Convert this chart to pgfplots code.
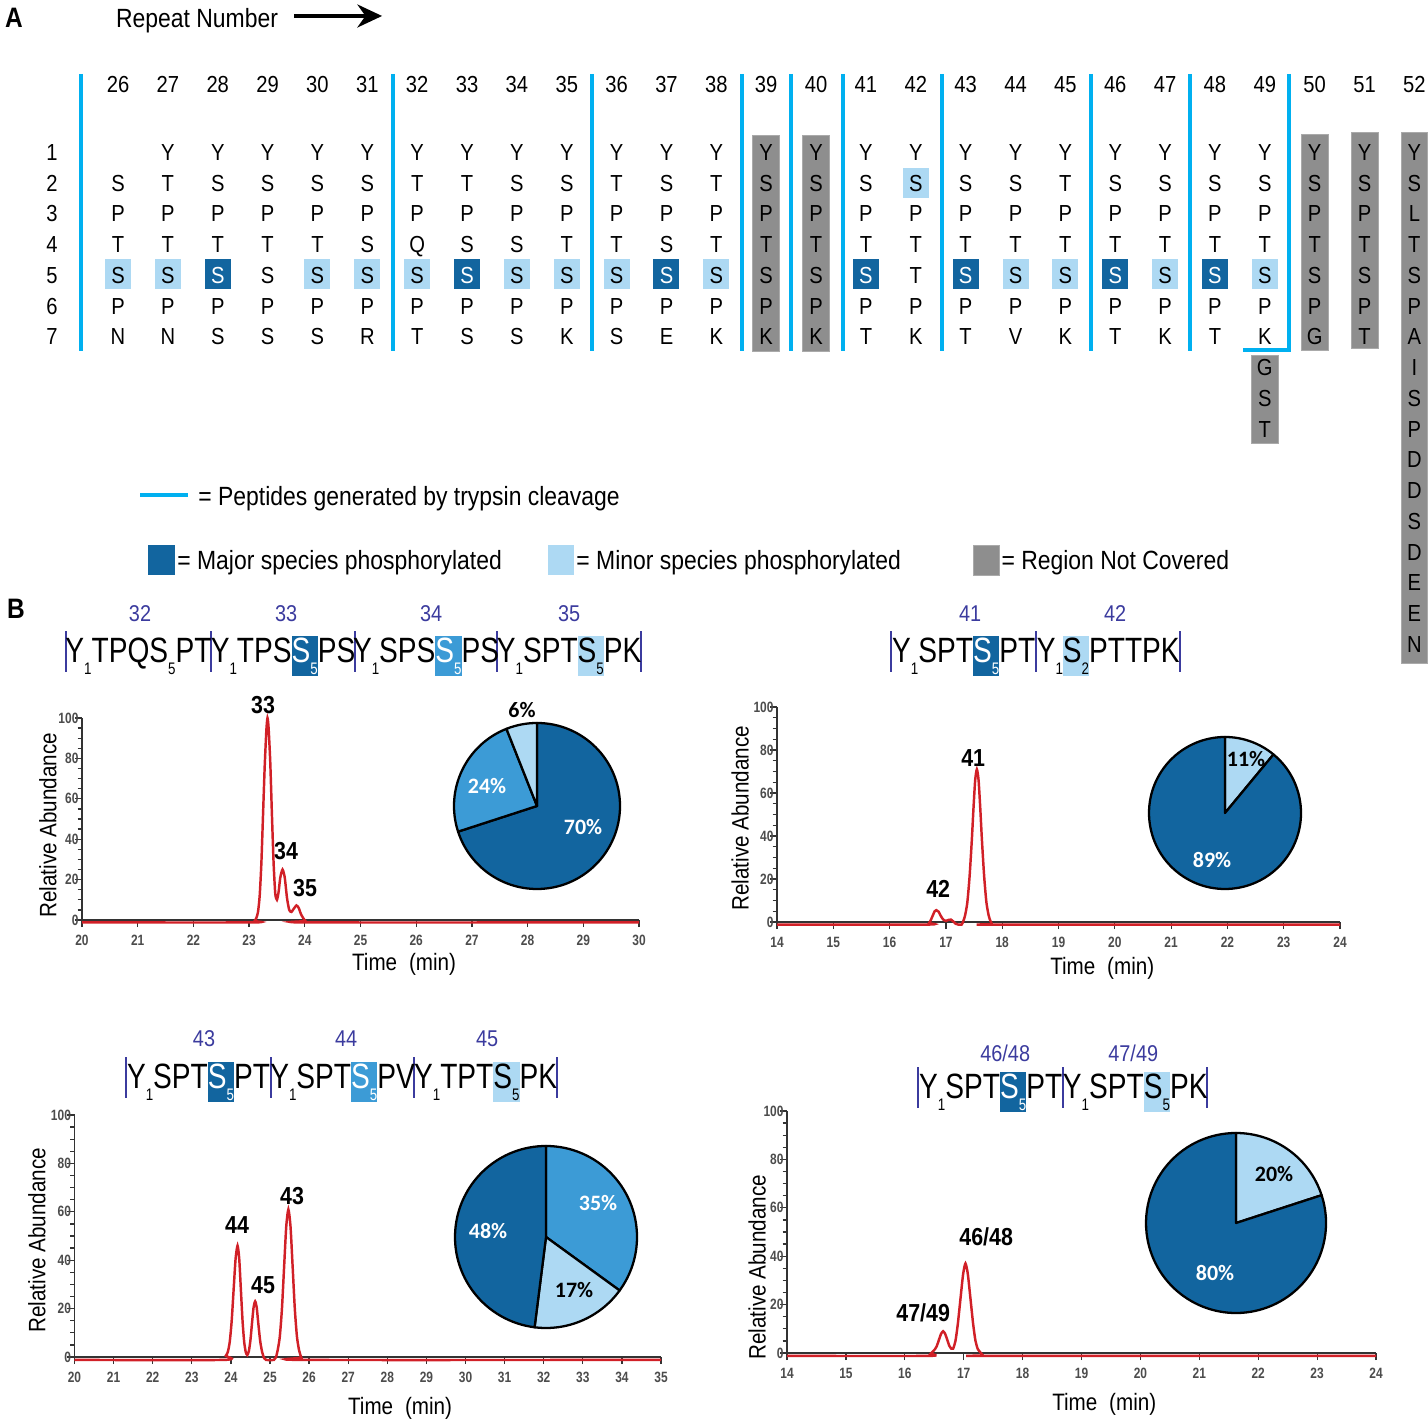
\documentclass[border=0pt]{standalone}
\usepackage{pgfplots}
\pgfplotsset{compat=1.18}
\usepackage{fontspec}
\setmainfont{Liberation Sans}
\newfontfamily\nar[FakeStretch=0.87]{Liberation Sans}
\newfontfamily\narr[FakeStretch=0.8]{Liberation Sans}
\newfontfamily\pief{Carlito}
\usetikzlibrary{arrows.meta}
\definecolor{dk}{HTML}{12659F}
\definecolor{md}{HTML}{3C9BD6}
\definecolor{lt}{HTML}{ADD9F3}
\definecolor{gr}{HTML}{8E8E8E}
\definecolor{cy}{HTML}{00B0F0}
\definecolor{nv}{HTML}{3B3B9E}
\definecolor{rd}{HTML}{D12027}
\newcommand\fA{\nar\fontsize{13.2pt}{14pt}\selectfont}
\newcommand\fL{\nar\fontsize{15pt}{16pt}\selectfont}
\newcommand\fX{\nar\fontsize{13.5pt}{14pt}\selectfont}
\newcommand\fS{\narr\fontsize{20pt}{21pt}\selectfont}
\newcommand\fN{\nar\fontsize{13pt}{14pt}\selectfont}
\newcommand\fP{\nar\bfseries\fontsize{14pt}{15pt}\selectfont}
\newcommand\fT{\narr\bfseries\fontsize{8.5pt}{9pt}\selectfont}
\newcommand\fPie{\pief\bfseries\fontsize{12.5pt}{13pt}\selectfont}
\newcommand\sub[1]{\raisebox{-6.8pt}{\fontsize{9.5pt}{9.5pt}\selectfont#1}}
\newcommand\hl[2]{{\setlength{\fboxsep}{0pt}\colorbox{#1}{\rule[-8pt]{0pt}{23pt}#2}}}
\newcommand\W{\textcolor{white}{S}}
\newcommand\slice[4]{\filldraw[fill=#1,draw=black,line width=1.3pt,line join=round] (axis cs:0,0) -- ++({90-3.6*#2}:#4) arc[start angle={90-3.6*#2}, end angle={90-3.6*#3}, radius=#4] -- cycle;}
\pgfplotsset{chrom/.style={
  scale only axis, axis lines=left, axis line style={-, black!80, line width=0.8pt},
  ymin=0, ymax=100, ytick={0,20,...,100}, minor y tick num=3,
  xtick distance=1, tick align=outside, major tick length=4pt, minor tick length=2.5pt,
  tick style={black!80, line width=0.7pt},
  /pgf/number format/assume math mode=true,
  ticklabel style={font=\fT, text=black!70},
  yticklabel style={xshift=5.5pt},
  xticklabel style={yshift=-1pt},
  clip=false, anchor=south west}}
\begin{document}
\begin{tikzpicture}
\useasboundingbox (0,0) rectangle (28.56,28.44);
\begin{scope}[x=0.02cm, y=-0.02cm, yshift=28.44cm]
% ---- panel A header
\node[anchor=base, font=\nar\bfseries\fontsize{16pt}{17pt}\selectfont] at (14,28) {A};
\node[anchor=base, font=\fL] at (197,27.5) {Repeat Number};
\draw[line width=2.8pt, -{Stealth[length=14pt, width=13pt]}] (294,16) -- (382,16);
% ---- boxes
\foreach \c in {26,27,30,31,32,34,35,36,38,44,45,47,49}
  \fill[lt] ({118+(\c-26)*49.85-13},259) rectangle ++(26,30);
\fill[lt] ({118+16*49.85-13},167.5) rectangle ++(26,30);
\foreach \c in {28,33,37,41,43,46,48}
  \fill[dk] ({118+(\c-26)*49.85-13},259) rectangle ++(26,30);
\filldraw[fill=gr, draw=gr!75!white] (752.5,135) rectangle (779.5,351);
\filldraw[fill=gr, draw=gr!75!white] (802.5,135) rectangle (829.5,351);
\filldraw[fill=gr, draw=gr!75!white] (1251,355) rectangle (1278,443);
\filldraw[fill=gr, draw=gr!75!white] (1301,134) rectangle (1328,350);
\filldraw[fill=gr, draw=gr!75!white] (1351,132) rectangle (1378,348);
\filldraw[fill=gr, draw=gr!75!white] (1401,132) rectangle (1427,663);
% ---- cyan lines
\foreach \x in {81,393,592,742,791,843,942,1091,1190}
  \draw[cy, line width=2.2pt] (\x,74) -- (\x,351);
\draw[cy, line width=2.2pt, line join=miter] (1289,74) -- (1289,350) -- (1243,350);
% ---- letters
\foreach \r in {1,...,7}
  \node[anchor=base, font=\fA] at (52,{160.3+(\r-1)*30.75}) {\r};
\foreach \seq [count=\i from 0] in {
 {{},S,P,T,S,P,N},
 {Y,T,P,T,S,P,N},
 {Y,S,P,T,\W,P,S},
 {Y,S,P,T,S,P,S},
 {Y,S,P,T,S,P,S},
 {Y,S,P,S,S,P,R},
 {Y,T,P,Q,S,P,T},
 {Y,T,P,S,\W,P,S},
 {Y,S,P,S,S,P,S},
 {Y,S,P,T,S,P,K},
 {Y,T,P,T,S,P,S},
 {Y,S,P,S,\W,P,E},
 {Y,T,P,T,S,P,K},
 {Y,S,P,T,S,P,K},
 {Y,S,P,T,S,P,K},
 {Y,S,P,T,\W,P,T},
 {Y,S,P,T,T,P,K},
 {Y,S,P,T,\W,P,T},
 {Y,S,P,T,S,P,V},
 {Y,T,P,T,S,P,K},
 {Y,S,P,T,\W,P,T},
 {Y,S,P,T,S,P,K},
 {Y,S,P,T,\W,P,T},
 {Y,S,P,T,S,P,K,G,S,T},
 {Y,S,P,T,S,P,G},
 {Y,S,P,T,S,P,T},
 {Y,S,L,T,S,P,A,I,S,P,D,D,S,D,E,E,N}}{
  \pgfmathtruncatemacro\cc{26+\i}
  \node[anchor=base, font=\fA] at ({118+\i*49.85},93) {\cc};
  \foreach \l [count=\r from 0] in \seq
    \node[anchor=base, font=\fA] at ({118+\i*49.85},{160.3+\r*30.75}) {\l};
}
% ---- legend
\draw[cy, line width=2.6pt] (140,495) -- (188,495);
\node[anchor=base west, inner sep=0, font=\fL] at (198,505.5) {= Peptides generated by trypsin cleavage};
\fill[dk] (148,545) rectangle (175,575);
\node[anchor=base west, inner sep=0, font=\fL] at (177,569.5) {= Major species phosphorylated};
\fill[lt] (548,545) rectangle (574,575);
\node[anchor=base west, inner sep=0, font=\fL] at (576,569.5) {= Minor species phosphorylated};
\filldraw[fill=gr, draw=gr!75!white] (973,545) rectangle (999,575);
\node[anchor=base west, inner sep=0, font=\fL] at (1001,569.5) {= Region Not Covered};
% ---- panel B
\node[anchor=base, font=\nar\bfseries\fontsize{16pt}{17pt}\selectfont] at (16,618) {B};
% top-left sequence
\foreach \x/\t in {140/32,286/33,431/34,569/35}
  \node[anchor=base, font=\fN, text=nv] at (\x,621) {\t};
\foreach \x in {66,211,355,497,641}
  \draw[nv, line width=1.1pt] (\x,631) -- (\x,672);
\node[anchor=base, inner sep=0, font=\fS] at (138.5,662) {Y\sub1TPQS\sub5PT};
\node[anchor=base, inner sep=0, font=\fS] at (283,662) {Y\sub1TPS\hl{dk}{\color{white}S\sub5}PS};
\node[anchor=base, inner sep=0, font=\fS] at (426,662) {Y\sub1SPS\hl{md}{\color{white}S\sub5}PS};
\node[anchor=base, inner sep=0, font=\fS] at (569,662) {Y\sub1SPT\hl{lt}{S\sub5}PK};
% top-right sequence
\foreach \x/\t in {970/41,1115/42}
  \node[anchor=base, font=\fN, text=nv] at (\x,621) {\t};
\foreach \x in {891,1036,1180}
  \draw[nv, line width=1.1pt] (\x,631) -- (\x,672);
\node[anchor=base, inner sep=0, font=\fS] at (963.5,662) {Y\sub1SPT\hl{dk}{\color{white}S\sub5}PT};
\node[anchor=base, inner sep=0, font=\fS] at (1108,662) {Y\sub1\hl{lt}{S\sub2}PTTPK};
% bottom-left sequence
\foreach \x/\t in {204/43,346/44,487/45}
  \node[anchor=base, font=\fN, text=nv] at (\x,1046) {\t};
\foreach \x in {126,271,414,557}
  \draw[nv, line width=1.1pt] (\x,1057) -- (\x,1098);
\node[anchor=base, inner sep=0, font=\fS] at (198.5,1088) {Y\sub1SPT\hl{dk}{\color{white}S\sub5}PT};
\node[anchor=base, inner sep=0, font=\fS] at (342.5,1088) {Y\sub1SPT\hl{md}{\color{white}S\sub5}PV};
\node[anchor=base, inner sep=0, font=\fS] at (485.5,1088) {Y\sub1TPT\hl{lt}{S\sub5}PK};
% bottom-right sequence
\foreach \x/\t in {1005/46\slash48,1133/47\slash49}
  \node[anchor=base, font=\fN, text=nv] at (\x,1061) {\t};
\foreach \x in {918,1063,1207}
  \draw[nv, line width=1.1pt] (\x,1067) -- (\x,1108);
\node[anchor=base, inner sep=0, font=\fS] at (990.5,1098) {Y\sub1SPT\hl{dk}{\color{white}S\sub5}PT};
\node[anchor=base, inner sep=0, font=\fS] at (1135,1098) {Y\sub1SPT\hl{lt}{S\sub5}PK};
% ---- axis labels
\node[rotate=90, font=\fX] at (48,825) {Relative Abundance};
\node[rotate=90, font=\fX] at (740,818) {Relative Abundance};
\node[rotate=90, font=\fX] at (37,1240) {Relative Abundance};
\node[rotate=90, font=\fX] at (757,1267) {Relative Abundance};
\node[font=\fX] at (404,964) {Time\enspace(min)};
\node[font=\fX] at (1102,968) {Time\enspace(min)};
\node[font=\fX] at (400,1408) {Time\enspace(min)};
\node[font=\fX] at (1104,1404) {Time\enspace(min)};
% ---- peak labels
\foreach \x/\y/\t in {263/705/33,286/851/34,305/888/35,973/758/41,938/889/42,237/1225/44,263/1285/45,292/1196/43,923/1313/47\slash49,986/1237/46\slash48}
  \node[font=\fP] at (\x,\y) {\t};
\end{scope}
% ---- chromatograms
\begin{axis}[chrom, at={(1.64cm,10.04cm)}, width=11.14cm, height=4.04cm, xmin=20, xmax=30]
\addplot[rd, line width=1.4pt, smooth, tension=0.4] coordinates {
(20,-1.2) (23.06,-1.2) (23.10,-0.5) (23.13,1) (23.16,4) (23.19,12) (23.22,28) (23.25,52) (23.28,76) (23.31,94) (23.33,100) (23.35,95) (23.38,78) (23.41,52) (23.44,28) (23.47,13) (23.50,10) (23.53,14) (23.56,21) (23.60,25) (23.64,21) (23.68,11) (23.72,5) (23.76,4) (23.80,5.5) (23.85,7.2) (23.89,6) (23.93,3) (23.97,1) (24.01,-0.5) (24.05,-1.2) (30,-1.2)};
\end{axis}
\begin{axis}[chrom, at={(15.54cm,10.00cm)}, width=11.26cm, height=4.30cm, xmin=14, xmax=24]
\addplot[rd, line width=1.4pt, smooth, tension=0.4] coordinates {
(14,-1.2) (16.66,-1.2) (16.70,-0.5) (16.73,0.8) (16.77,3.2) (16.80,5) (16.83,5.5) (16.87,4.8) (16.91,2.8) (16.95,1.2) (17.0,0.5) (17.05,1) (17.09,1.1) (17.13,0.3) (17.17,-0.8) (17.22,-1.2) (17.28,-1.2) (17.31,0.5) (17.34,3) (17.38,9) (17.42,21) (17.46,38) (17.49,53) (17.52,66) (17.55,71) (17.58,66) (17.61,53) (17.64,38) (17.68,21) (17.72,9) (17.76,3) (17.79,0.5) (17.82,-1) (17.86,-1.2) (24,-1.2)};
\end{axis}
\begin{axis}[chrom, at={(1.49cm,1.30cm)}, width=11.73cm, height=4.84cm, xmin=20, xmax=35]
\addplot[rd, line width=1.4pt, smooth, tension=0.4] coordinates {
(20,-1.2) (23.82,-1.2) (23.87,0.5) (23.92,2) (23.97,6.2) (24.02,14.9) (24.07,27.9) (24.12,40.6) (24.17,46) (24.213,40.6) (24.255,27.9) (24.298,14.9) (24.34,6.2) (24.38,2) (24.42,0.8) (24.46,2.5) (24.50,7) (24.54,14) (24.58,20.5) (24.62,23) (24.66,20.5) (24.70,14) (24.75,6.5) (24.80,2) (24.85,-0.5) (24.90,-1.2) (25.10,-1.2) (25.15,-0.2) (25.195,2.7) (25.25,8.3) (25.305,19.8) (25.36,37) (25.415,53.8) (25.47,61) (25.525,53.8) (25.58,37) (25.635,19.8) (25.69,8.3) (25.745,2.7) (25.80,-0.2) (25.85,-1.2) (35,-1.2)};
\end{axis}
\begin{axis}[chrom, at={(15.74cm,1.38cm)}, width=11.78cm, height=4.84cm, xmin=14, xmax=24]
\addplot[rd, line width=1.4pt, smooth, tension=0.4] coordinates {
(14,-1.2) (16.40,-1.2) (16.44,-0.3) (16.475,0.6) (16.51,1.5) (16.545,3) (16.58,5.5) (16.615,7.9) (16.65,9) (16.685,7.9) (16.72,5.5) (16.755,3) (16.79,1.8) (16.82,1.8) (16.86,5) (16.90,12) (16.945,22.4) (16.99,32.6) (17.03,37) (17.07,32.6) (17.115,22.4) (17.16,12) (17.20,5) (17.24,1.6) (17.285,0.2) (17.33,-1) (17.38,-1.2) (24,-1.2)};
\end{axis}
% ---- pies
\begin{axis}[hide axis, at={(10.74cm,12.32cm)}, anchor=origin, x=1cm, y=1cm, xmin=-2, xmax=2, ymin=-2, ymax=2, clip=false]
\slice{dk}{0}{70}{1.66cm}
\slice{md}{70}{94}{1.66cm}
\slice{lt}{94}{100}{1.66cm}
\node[font=\fPie, text=white] at (axis cs:0.92,-0.42) {70\%};
\node[font=\fPie, text=white] at (axis cs:-1.0,0.4) {24\%};
\node[font=\fPie] at (axis cs:-0.3,1.92) {6\%};
\end{axis}
\begin{axis}[hide axis, at={(24.50cm,12.18cm)}, anchor=origin, x=1cm, y=1cm, xmin=-2, xmax=2, ymin=-2, ymax=2, clip=false]
\slice{lt}{0}{11}{1.52cm}
\slice{dk}{11}{100}{1.52cm}
\node[font=\fPie] at (axis cs:0.42,1.08) {11\%};
\node[font=\fPie, text=white] at (axis cs:-0.26,-0.94) {89\%};
\end{axis}
\begin{axis}[hide axis, at={(10.92cm,3.70cm)}, anchor=origin, x=1cm, y=1cm, xmin=-2, xmax=2, ymin=-2, ymax=2, clip=false]
\slice{md}{0}{35}{1.82cm}
\slice{lt}{35}{52}{1.82cm}
\slice{dk}{52}{100}{1.82cm}
\node[font=\fPie, text=white] at (axis cs:1.04,0.68) {35\%};
\node[font=\fPie] at (axis cs:0.56,-1.06) {17\%};
\node[font=\fPie, text=white] at (axis cs:-1.16,0.12) {48\%};
\end{axis}
\begin{axis}[hide axis, at={(24.72cm,3.98cm)}, anchor=origin, x=1cm, y=1cm, xmin=-2, xmax=2, ymin=-2, ymax=2, clip=false]
\slice{lt}{0}{20}{1.80cm}
\slice{dk}{20}{100}{1.80cm}
\node[font=\fPie] at (axis cs:0.76,0.98) {20\%};
\node[font=\fPie, text=white] at (axis cs:-0.42,-1.0) {80\%};
\end{axis}
\end{tikzpicture}
\end{document}
